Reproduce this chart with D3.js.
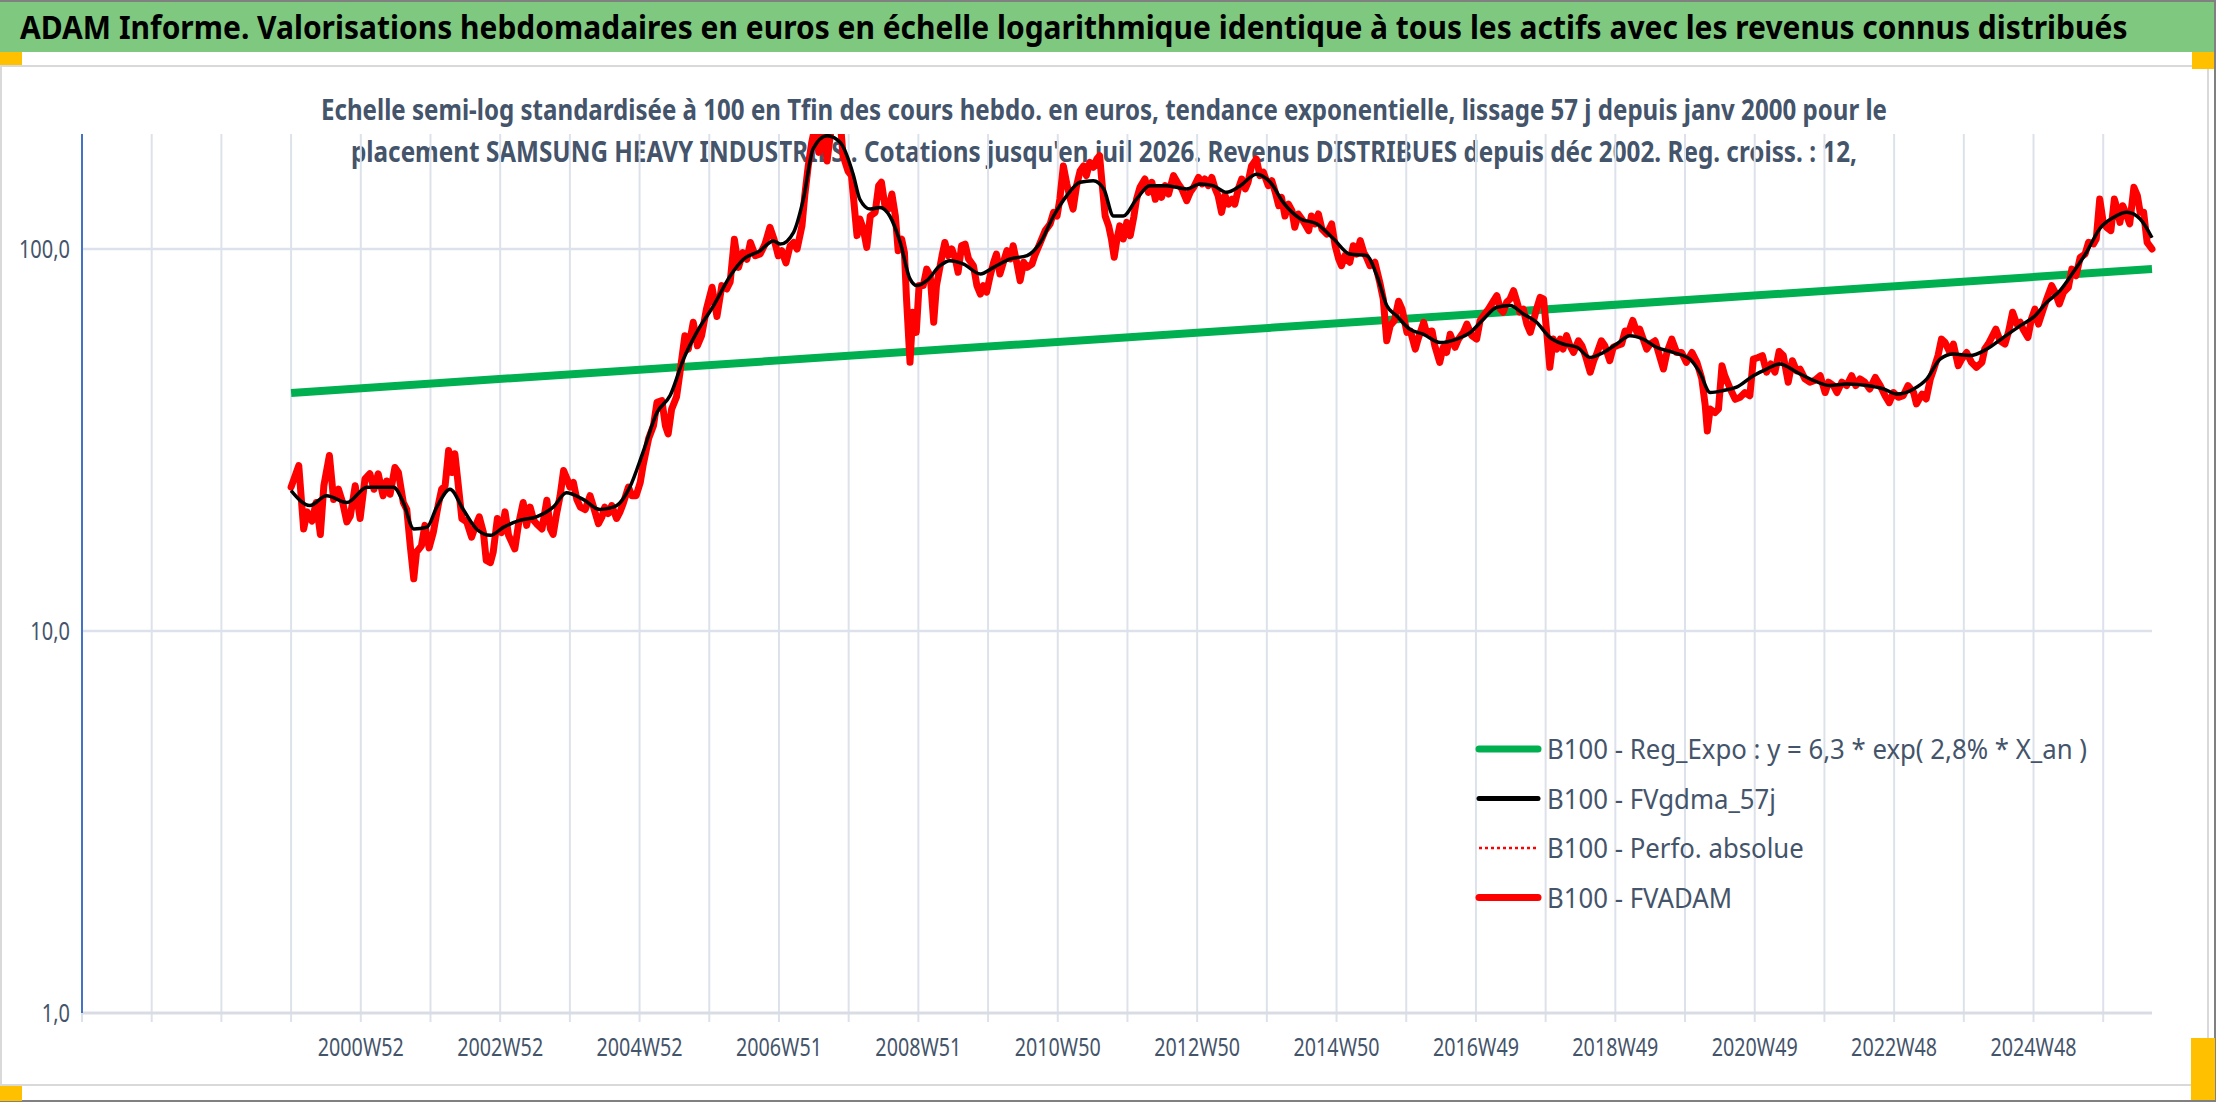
<!DOCTYPE html>
<html>
<head>
<meta charset="utf-8">
<script src="https://cdn.jsdelivr.net/npm/d3@7"></script>
<style>
  body { margin: 0; background: #fff; }
  svg { display: block; font-family: "Noto Sans", "Open Sans", sans-serif; }
</style>
</head>
<body>
<svg id="chart"></svg>
<script>
// ---- data ----
const titleText = "ADAM Informe. Valorisations hebdomadaires en euros en échelle logarithmique identique à tous les actifs avec les revenus connus distribués";
const subtitleLines = [
  "Echelle semi-log standardisée à 100 en Tfin des cours hebdo. en euros, tendance exponentielle, lissage 57 j depuis janv 2000 pour le",
  "placement SAMSUNG HEAVY INDUSTRIES . Cotations jusqu'en juil 2026. Revenus DISTRIBUES depuis déc 2002. Reg. croiss. : 12,"
];
const xLabelYears = [2001, 2003, 2005, 2007, 2009, 2011, 2013, 2015, 2017, 2019, 2021, 2023, 2025];
const xLabels = ["2000W52", "2002W52", "2004W52", "2006W51", "2008W51", "2010W50", "2012W50",
                 "2014W50", "2016W49", "2018W49", "2020W49", "2022W48", "2024W48"];
const yTicks = [1, 10, 100];
const yTickLabels = ["1,0", "10,0", "100,0"];
const legendLabels = [
  "B100 - Reg_Expo : y = 6,3 * exp( 2,8% *  X_an )",
  "B100 - FVgdma_57j",
  "B100 - Perfo. absolue",
  "B100 - FVADAM"
];

// regression (exponential => straight on log scale), end points
const regYears = [2000.0, 2026.7];
const regValues = [42.0, 88.6];

// FVADAM (red)
const fvYears = [
  2000.00,2000.11,2000.18,2000.23,2000.30,2000.36,2000.42,2000.47,2000.55,2000.61,2000.68,2000.74,2000.80,2000.85,2000.92,2000.99,
  2001.06,2001.13,2001.19,2001.25,2001.32,2001.37,2001.42,2001.49,2001.54,2001.61,2001.66,2001.71,2001.76,2001.80,2001.87,2001.92,2001.98,
  2002.04,2002.11,2002.16,2002.21,2002.26,2002.31,2002.35,2002.40,2002.45,2002.52,2002.59,2002.64,2002.70,2002.76,2002.80,2002.86,2002.90,2002.96,
  2003.02,2003.07,2003.12,2003.21,2003.26,2003.33,2003.38,2003.43,2003.48,2003.52,2003.60,2003.67,2003.72,2003.76,2003.81,2003.86,2003.91,2003.96,
  2004.00,2004.05,2004.10,2004.15,2004.22,2004.29,2004.34,2004.41,2004.46,2004.50,2004.55,2004.60,2004.67,2004.72,2004.77,2004.84,2004.89,2004.95,
  2005.01,2005.05,2005.13,2005.20,2005.25,2005.32,2005.37,2005.41,2005.46,2005.53,2005.58,2005.65,2005.70,2005.77,2005.83,2005.89,2005.96,
  2006.04,2006.11,2006.18,2006.25,2006.30,2006.36,2006.42,2006.48,2006.54,2006.59,2006.66,2006.73,2006.80,2006.87,2006.93,2006.99,
  2007.04,2007.10,2007.16,2007.21,2007.26,2007.33,2007.37,2007.42,2007.47,2007.52,2007.57,2007.64,2007.69,2007.76,2007.88,2007.92,2007.99,
  2008.04,2008.12,2008.16,2008.21,2008.26,2008.31,2008.38,2008.43,2008.47,2008.52,2008.57,2008.62,2008.67,2008.71,2008.76,2008.80,2008.83,2008.88,2008.92,2008.97,
  2009.01,2009.07,2009.12,2009.17,2009.22,2009.26,2009.34,2009.38,2009.43,2009.48,2009.53,2009.57,2009.62,2009.67,2009.72,2009.79,2009.84,2009.89,2009.93,2009.98,
  2010.03,2010.08,2010.12,2010.17,2010.22,2010.27,2010.32,2010.36,2010.41,2010.46,2010.51,2010.56,2010.63,2010.67,2010.75,2010.82,2010.89,2010.94,2010.99,
  2011.03,2011.08,2011.13,2011.18,2011.22,2011.27,2011.32,2011.37,2011.41,2011.46,2011.51,2011.56,2011.60,2011.63,2011.68,2011.73,2011.77,2011.81,2011.85,2011.89,2011.94,2011.99,
  2012.04,2012.09,2012.13,2012.18,2012.25,2012.30,2012.35,2012.40,2012.44,2012.49,2012.54,2012.59,2012.66,2012.73,2012.78,2012.85,2012.90,2012.95,
  2013.02,2013.07,2013.11,2013.16,2013.21,2013.26,2013.30,2013.35,2013.40,2013.45,2013.50,2013.54,2013.59,2013.64,2013.69,2013.73,2013.78,2013.85,2013.90,2013.95,
  2014.02,2014.07,2014.12,2014.17,2014.21,2014.26,2014.31,2014.36,2014.40,2014.45,2014.52,2014.60,2014.64,2014.69,2014.74,2014.79,2014.86,2014.93,2014.98,
  2015.03,2015.07,2015.12,2015.19,2015.24,2015.29,2015.34,2015.39,2015.43,2015.48,2015.55,2015.62,2015.67,2015.72,2015.77,2015.83,2015.89,2015.94,
  2016.01,2016.06,2016.13,2016.17,2016.25,2016.29,2016.37,2016.41,2016.48,2016.53,2016.58,2016.63,2016.70,2016.75,2016.82,2016.87,2016.94,
  2017.01,2017.06,2017.11,2017.18,2017.25,2017.30,2017.35,2017.39,2017.44,2017.49,2017.54,2017.59,2017.63,2017.68,2017.73,2017.78,2017.82,2017.87,2017.92,2017.97,
  2018.02,2018.06,2018.11,2018.16,2018.21,2018.25,2018.30,2018.35,2018.40,2018.47,2018.52,2018.57,2018.64,2018.69,2018.73,2018.80,2018.85,2018.92,2018.97,
  2019.02,2019.09,2019.14,2019.19,2019.25,2019.31,2019.35,2019.40,2019.45,2019.50,2019.57,2019.62,2019.69,2019.74,2019.81,2019.88,2019.95,
  2020.02,2020.10,2020.17,2020.24,2020.29,2020.32,2020.36,2020.43,2020.48,2020.53,2020.57,2020.65,2020.72,2020.79,2020.86,2020.93,2020.98,
  2021.05,2021.11,2021.17,2021.23,2021.29,2021.35,2021.41,2021.48,2021.54,2021.60,2021.65,2021.72,2021.79,2021.86,2021.94,
  2022.01,2022.06,2022.13,2022.18,2022.25,2022.32,2022.39,2022.45,2022.51,2022.58,2022.65,2022.73,2022.80,2022.87,2022.93,2022.99,
  2023.06,2023.13,2023.20,2023.28,2023.32,2023.40,2023.46,2023.52,2023.56,2023.63,2023.68,2023.73,2023.80,2023.85,2023.92,2023.97,
  2024.04,2024.11,2024.18,2024.26,2024.30,2024.35,2024.40,2024.46,2024.52,2024.59,2024.64,2024.70,2024.76,2024.81,2024.85,2024.92,2024.97,
  2025.02,2025.07,2025.14,2025.19,2025.26,2025.31,2025.37,2025.43,2025.50,2025.55,2025.61,2025.67,2025.74,2025.79,2025.86,2025.90,2025.95,
  2026.00,2026.05,2026.11,2026.16,2026.20,2026.24,2026.28,2026.33,2026.38,2026.44,2026.49,2026.53,2026.58,2026.63,2026.70
];
const fvValues = [
  23.8,27.1,18.5,20.5,19.4,21.7,17.9,24.0,28.8,22.1,23.5,21.7,19.3,20.0,24.0,19.7,
  25.0,25.8,23.5,25.8,22.6,24.7,22.8,26.8,26.0,21.7,20.8,16.7,13.7,16.1,16.7,18.9,16.5,
  18.1,21.3,23.5,24.0,29.7,26.0,29.1,24.0,19.7,19.3,17.6,18.7,19.9,18.1,15.3,15.1,16.1,19.7,
  18.1,20.5,17.8,16.4,18.9,21.7,18.9,21.1,19.5,19.1,18.5,22.0,18.5,17.9,20.3,22.6,26.3,25.0,
  23.8,24.5,22.1,21.1,20.8,22.6,21.1,19.1,19.9,21.1,20.3,21.3,19.7,20.5,21.7,23.8,22.6,22.6,
  24.5,27.1,31.9,34.5,39.7,40.1,34.5,32.8,38.1,41.0,47.6,59.3,54.7,64.3,55.8,59.3,69.7,
  79.4,66.6,80.2,78.6,82.0,106,89.5,97.8,94.0,104,96.0,97.0,103,114,106,96.0,
  99.0,92.0,102,104,100,115,138,165,190,210,179,205,170,215,215,175.5,160,
  155.6,108.4,119.8,112.8,101,122,124.7,146.5,149.5,129.8,127.2,139.3,122,99.0,106.2,98.0,74.0,50.5,68.3,60.5,
  80.2,80.2,88.6,85.1,64.3,80.2,96.1,104,96.1,100,94.2,86.9,102,103,94.2,90.4,80.2,76.2,80.2,77.1,
  85.1,92.3,97.0,86.0,92.3,99.0,94.2,102,92.3,82.6,92.3,89.5,91.3,96.1,104,111.7,116.3,124.7,122,
  135,165,148,135,127.2,146.5,160,165,155.6,168.6,163.6,172,175.5,152.5,122,115,106.2,95.1,106.2,115,106.2,117.4,
  108.4,121,135,145,152.5,140.7,149.5,135,143.6,136.5,146.5,139.3,155.6,148,143.6,133.8,140.7,145,
  154,148,152.5,146.5,154,143.6,138,124.7,138,131,135,131,143.6,152.5,143.6,149.5,165,172,155.6,158.8,
  146.5,151,141,129.8,136.5,122,131,126,114,123.5,118.6,111.7,122,116.3,123.5,112.8,109.5,116.3,102,
  94.2,90.4,96.1,92.3,102,97.0,105.2,98.0,95.1,90.4,92.3,81.8,74.0,57.5,63.0,65.0,73.0,69.6,
  60.5,61.0,54.7,58.1,64.3,60.5,61.0,55.8,50.5,55.3,53.6,59.8,55.3,58.1,60.5,63.6,59.3,
  58.1,65.0,66.9,69.6,73.0,75.5,69.6,68.3,72.5,74.0,77.8,72.5,68.3,69.6,63.6,60.5,64.3,69.6,74.7,74.0,
  59.3,49.0,58.1,54.7,58.1,54.7,59.3,55.8,53.6,57.5,55.8,52.6,47.6,51.0,53.0,57.5,55.8,51.0,55.3,
  55.8,56.4,61.0,60.5,65.0,60.5,61.7,58.1,54.7,56.4,57.5,53.6,48.5,53.6,58.1,53.6,53.6,
  50.5,53.6,50.5,45.8,38.9,33.4,38.1,37.3,38.1,49.5,46.6,43.0,40.4,40.9,42.1,41.3,51.5,
  52.0,52.6,47.6,50.0,47.6,53.9,52.6,44.8,51.0,48.0,48.5,45.7,44.8,45.3,46.6,
  42.1,44.8,43.9,42.1,44.8,43.9,46.6,43.9,45.7,44.8,43.0,46.1,43.9,41.3,39.6,42.1,
  40.9,41.3,43.9,42.1,39.3,41.7,40.5,45.7,48.0,52.6,58.1,57.0,53.6,56.4,49.5,51.5,
  53.6,50.5,49.0,50.5,54.7,56.4,58.7,61.7,57.5,56.4,60.5,68.3,63.6,64.3,61.7,58.7,65.6,
  69.6,63.6,69.6,74.0,80.2,77.0,71.8,77.0,79.4,88.6,85.1,95.1,97.0,104.1,103.1,106.2,135.1,
  117.4,113.9,111.7,135.1,127.3,117.4,129.8,123.5,116.3,145,138,124.7,124.7,104.1,100
];

// FVgdma_57j (black, smoothed)
const gdmaYears = [
  2000.00,2000.27,2000.51,2000.80,2001.09,2001.47,2001.61,2001.76,2001.95,2002.09,2002.28,2002.47,2002.66,2002.86,
  2003.05,2003.29,2003.52,2003.76,2003.95,2004.19,2004.43,2004.67,2004.86,2005.05,2005.25,2005.44,2005.63,2005.82,
  2006.06,2006.30,2006.49,2006.73,2006.92,2007.02,2007.21,2007.35,2007.49,2007.69,2007.88,2008.07,2008.16,2008.31,
  2008.45,2008.59,2008.74,2008.88,2008.98,2009.12,2009.31,2009.45,2009.65,2009.89,2010.08,2010.32,2010.56,2010.75,
  2010.94,2011.13,2011.32,2011.51,2011.66,2011.80,2011.94,2012.13,2012.32,2012.56,2012.85,2013.04,2013.23,2013.42,
  2013.62,2013.85,2014.05,2014.24,2014.48,2014.72,2014.96,2015.19,2015.43,2015.58,2015.72,2015.86,2016.05,2016.25,
  2016.49,2016.72,2016.92,2017.11,2017.30,2017.49,2017.68,2017.87,2018.06,2018.25,2018.45,2018.64,2018.83,2019.02,
  2019.21,2019.40,2019.59,2019.83,2020.07,2020.21,2020.36,2020.55,2020.74,2020.98,2021.17,2021.36,2021.60,2021.84,
  2022.08,2022.32,2022.61,2022.85,2023.04,2023.28,2023.47,2023.66,2023.85,2024.09,2024.33,2024.57,2024.81,2025.00,
  2025.19,2025.38,2025.57,2025.76,2025.95,2026.15,2026.34,2026.53,2026.70
];
const gdmaValues = [
  23.3,21.3,22.6,21.7,23.8,23.8,21.7,18.5,18.7,21.1,23.5,20.8,18.5,17.8,
  18.7,19.5,19.9,21.1,23.0,22.1,20.8,21.3,23.8,29.4,37.3,41.4,51.5,60.5,
  71.0,85.0,94.0,99.0,105,103,110.6,135,183,198,190,155.6,135,127.2,
  128.5,122,104,83.5,80.2,82.6,90.4,93.2,91.3,86.0,89.5,94.2,96.1,104,
  122,138,149.5,151,143.6,122,122,135,146.5,146.5,143.6,148,146.5,140.7,
  146.5,157,149.5,132,120,116.3,106.2,97.0,96.1,85.1,71.1,66.9,61.7,59.8,
  56.9,58.1,60.5,65.6,70.4,71.1,67.6,64.3,58.7,56.4,55.3,52.0,53.6,56.4,
  59.3,58.1,55.3,53.6,51.5,47.6,42.1,42.6,43.5,46.6,48.5,50.0,47.6,45.3,
  43.9,44.3,43.9,43.0,41.7,43.0,45.7,51.5,53.1,52.6,54.7,58.7,63.0,66.3,
  72.5,77.8,86.9,98.0,113,121,124.7,119.8,107
];

// ---- layout ----
const W = 2216, H = 1102;
const plot = { left: 82, right: 2152, top: 134, bottom: 1013 };
const textColor = "#44546A";
const gridColor = "#DDE2EA";

const svg = d3.select("#chart")
    .attr("width", W)
    .attr("height", H)
    .attr("viewBox", `0 0 ${W} ${H}`);

// squeeze a text to a given width (the reference font is narrow)
function fit(sel, w) {
    sel.attr("textLength", w).attr("lengthAdjust", "spacingAndGlyphs");
}

// frame and decorations
svg.append("rect").attr("x", 0).attr("y", 0).attr("width", W).attr("height", H).attr("fill", "#fff");
svg.append("rect").attr("x", 0).attr("y", 0).attr("width", W).attr("height", 52).attr("fill", "#7EC97F");
svg.append("rect").attr("x", 1).attr("y", 66).attr("width", 2207).attr("height", 1019)
    .attr("fill", "#fff").attr("stroke", "#D9D9D9").attr("stroke-width", 2);
svg.append("line").attr("x1", 0).attr("x2", W).attr("y1", 1).attr("y2", 1).attr("stroke", "#808080").attr("stroke-width", 2);
svg.append("line").attr("x1", W - 1).attr("x2", W - 1).attr("y1", 0).attr("y2", H).attr("stroke", "#808080").attr("stroke-width", 2);
svg.append("line").attr("x1", 0).attr("x2", W).attr("y1", H - 1).attr("y2", H - 1).attr("stroke", "#808080").attr("stroke-width", 2);

const orange = "#FFC000";
[[0, 52, 22, 13], [2192, 52, 22, 17], [0, 1086, 22, 15], [2191, 1038, 24, 62]].forEach(r => {
    svg.append("rect").attr("x", r[0]).attr("y", r[1]).attr("width", r[2]).attr("height", r[3]).attr("fill", orange);
});

// title: condensed with a horizontal scale so its box stays inside the band
const titleG = svg.append("g");
const title = titleG.append("text")
    .attr("x", 0).attr("y", 0)
    .attr("font-size", 32).attr("font-weight", "bold").attr("fill", "#000")
    .text(titleText);
const titleScale = 2108 / title.node().getComputedTextLength();
titleG.attr("transform", `translate(20,39) scale(${titleScale},1)`);

// subtitle
const subW = [1566, 1506];
subtitleLines.forEach((s, i) => {
    const t = svg.append("text")
        .attr("x", 1104).attr("y", 120 + i * 42)
        .attr("text-anchor", "middle")
        .attr("font-size", 29).attr("font-weight", "bold").attr("fill", textColor)
        .text(s);
    fit(t, subW[i]);
});

// scales
const x = d3.scaleLinear().domain([1997, 2026.7]).range([plot.left, plot.right]);
const y = d3.scaleLog().domain([1, 200]).range([plot.bottom, plot.top]);

// vertical gridlines every year + tick marks below baseline
const gridYears = d3.range(1997, 2027);
svg.append("g").selectAll("line").data(gridYears).join("line")
    .attr("x1", d => x(d)).attr("x2", d => x(d))
    .attr("y1", plot.top).attr("y2", plot.bottom + 9)
    .attr("stroke", gridColor).attr("stroke-width", 2);

// horizontal gridlines
svg.append("g").selectAll("line").data(yTicks.slice(1)).join("line")
    .attr("x1", plot.left).attr("x2", plot.right)
    .attr("y1", d => y(d)).attr("y2", d => y(d))
    .attr("stroke", gridColor).attr("stroke-width", 2.5);

// baseline
svg.append("line")
    .attr("x1", plot.left).attr("x2", plot.right)
    .attr("y1", y(1)).attr("y2", y(1))
    .attr("stroke", "#D9DDE3").attr("stroke-width", 3);

// y axis line
svg.append("line")
    .attr("x1", plot.left).attr("x2", plot.left)
    .attr("y1", plot.top).attr("y2", plot.bottom)
    .attr("stroke", "#4472C4").attr("stroke-width", 2);

// y labels
svg.append("g").selectAll("text").data(yTicks).join("text")
    .attr("x", 70).attr("y", d => y(d) + 9)
    .attr("text-anchor", "end")
    .attr("font-size", 25).attr("fill", textColor)
    .text((d, i) => yTickLabels[i])
    .each(function() { fit(d3.select(this), this.getComputedTextLength() * 0.8); });

// x labels
svg.append("g").selectAll("text").data(xLabelYears).join("text")
    .attr("x", d => x(d)).attr("y", 1056)
    .attr("text-anchor", "middle")
    .attr("font-size", 25).attr("fill", textColor)
    .text((d, i) => xLabels[i])
    .each(function() { fit(d3.select(this), 86); });

// clip to plot area
svg.append("clipPath").attr("id", "plotClip")
    .append("rect")
    .attr("x", plot.left).attr("y", plot.top)
    .attr("width", plot.right - plot.left + 4).attr("height", plot.bottom - plot.top);

const lines = svg.append("g").attr("clip-path", "url(#plotClip)");
const lineGen = d3.line().x(d => x(d[0])).y(d => y(d[1]));

lines.append("path")
    .datum(d3.zip(regYears, regValues))
    .attr("d", lineGen)
    .attr("fill", "none").attr("stroke", "#00B050").attr("stroke-width", 8);

lines.append("path")
    .datum(d3.zip(fvYears, fvValues))
    .attr("d", lineGen)
    .attr("fill", "none").attr("stroke", "#FF0000").attr("stroke-width", 7)
    .attr("stroke-linejoin", "round").attr("stroke-linecap", "round");

lines.append("path")
    .datum(d3.zip(gdmaYears, gdmaValues))
    .attr("d", lineGen.curve(d3.curveMonotoneX))
    .attr("fill", "none").attr("stroke", "#000").attr("stroke-width", 3.5)
    .attr("stroke-linejoin", "round");

// legend
const legendStyles = [
    { color: "#00B050", width: 7, dash: null },
    { color: "#000", width: 5, dash: null },
    { color: "#FF0000", width: 2.5, dash: "3,3" },
    { color: "#FF0000", width: 7, dash: null }
];
const legend = svg.append("g");
const legendNatural = [];
legendLabels.forEach((lab, i) => {
    const yy = 749 + i * 49.5;
    const st = legendStyles[i];
    legend.append("line")
        .attr("x1", 1479).attr("x2", 1538).attr("y1", yy).attr("y2", yy)
        .attr("stroke", st.color).attr("stroke-width", st.width)
        .attr("stroke-linecap", st.dash ? "butt" : "round")
        .attr("stroke-dasharray", st.dash);
    const t = legend.append("text")
        .attr("x", 1547).attr("y", yy + 10)
        .attr("font-size", 28).attr("fill", textColor)
        .text(lab);
    legendNatural.push(t);
});
const legendFactor = 540 / legendNatural[0].node().getComputedTextLength();
legendNatural.forEach(t => fit(t, t.node().getComputedTextLength() * legendFactor));
</script>
</body>
</html>
